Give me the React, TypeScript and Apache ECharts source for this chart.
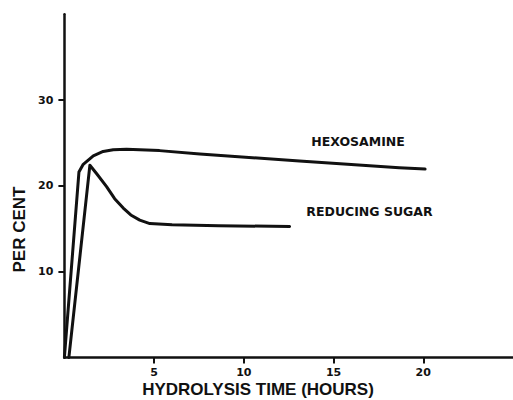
import React, { useEffect, useRef } from "react";
import * as echarts from "echarts";

// Hexosamine curve (hours, per cent)
const hexHours = [0, 0.81, 1.05, 1.61, 2.16, 2.72, 3.46, 5.3, 7.55, 13.1, 18.66, 20.1];
const hexPct = [0, 21.6, 22.5, 23.5, 24.0, 24.2, 24.25, 24.1, 23.7, 22.9, 22.1, 21.95];

// Reducing sugar curve (hours, per cent)
const sugarHours = [0.25, 1.42, 1.8, 2.35, 2.8, 3.28, 3.7, 4.2, 4.76, 6.0, 8.6, 12.55];
const sugarPct = [0, 22.4, 21.4, 19.9, 18.5, 17.4, 16.6, 16.0, 15.6, 15.45, 15.35, 15.25];

const xTicks = [5, 10, 15, 20];
const yTicks = [10, 20, 30];

const seriesNames = ["HEXOSAMINE", "REDUCING SUGAR"];
const xTitle = "HYDROLYSIS TIME (HOURS)";
const yTitle = "PER CENT";

const INK = "#111111";

export default function App() {
  const ref = useRef<HTMLDivElement>(null);

  useEffect(() => {
    if (!ref.current) return;
    const chart = echarts.init(ref.current, undefined, { renderer: "svg" });
    const hexData = hexHours.map((h, i) => [h, hexPct[i]]);
    const sugarData = sugarHours.map((h, i) => [h, sugarPct[i]]);
    const labelStyle = {
      color: INK,
      fontFamily: "DejaVu Sans",
      fontWeight: "bold" as const,
      fontSize: 11,
    };
    chart.setOption({
      animation: false,
      backgroundColor: "#ffffff",
      grid: { left: 64.4, top: 14.2, width: 449.6, height: 343.2, containLabel: false },
      xAxis: {
        type: "value",
        min: 0,
        max: 25,
        interval: 5,
        axisLine: { show: true, lineStyle: { color: INK, width: 2.5 } },
        axisTick: { show: true, length: 6, customValues: xTicks, lineStyle: { color: INK, width: 2 } },
        axisLabel: { ...labelStyle, margin: 10, customValues: xTicks },
        splitLine: { show: false },
      },
      yAxis: {
        type: "value",
        min: 0,
        max: 40,
        interval: 10,
        axisLine: { show: true, lineStyle: { color: INK, width: 2.5 } },
        axisTick: { show: true, length: 6, customValues: yTicks, lineStyle: { color: INK, width: 2 } },
        axisLabel: { ...labelStyle, margin: 11, customValues: yTicks },
        splitLine: { show: false },
      },
      series: [
        {
          name: seriesNames[0],
          type: "line",
          data: hexData,
          showSymbol: false,
          symbol: "none",
          lineStyle: { color: INK, width: 3, cap: "round", join: "round" },
        },
        {
          name: seriesNames[1],
          type: "line",
          data: sugarData,
          showSymbol: false,
          symbol: "none",
          lineStyle: { color: INK, width: 3, cap: "round", join: "round" },
        },
      ],
      graphic: [
        {
          type: "text",
          x: 358,
          y: 141.5,
          style: {
            text: seriesNames[0],
            fill: INK,
            font: "bold 12.5px 'DejaVu Sans'",
            align: "center",
            verticalAlign: "middle",
          },
        },
        {
          type: "text",
          x: 369.5,
          y: 211,
          style: {
            text: seriesNames[1],
            fill: INK,
            font: "bold 12.5px 'DejaVu Sans'",
            align: "center",
            verticalAlign: "middle",
          },
        },
        {
          type: "text",
          x: 258,
          y: 389,
          style: {
            text: xTitle,
            fill: INK,
            font: "bold 17px 'Liberation Sans'",
            align: "center",
            verticalAlign: "middle",
          },
        },
        {
          type: "text",
          x: 19,
          y: 229.5,
          rotation: Math.PI / 2,
          style: {
            text: yTitle,
            fill: INK,
            font: "bold 17px 'Liberation Sans'",
            align: "center",
            verticalAlign: "middle",
          },
        },
      ],
    });
    return () => chart.dispose();
  }, []);

  return (
    <div
      ref={ref}
      style={{ position: "fixed", left: 0, top: 0, width: 513, height: 400, background: "#fff" }}
    />
  );
}
